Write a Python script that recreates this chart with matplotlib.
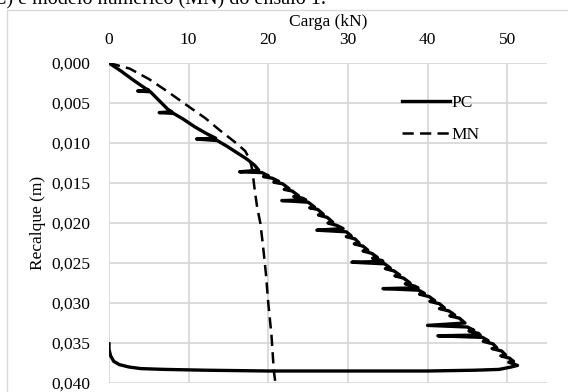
import matplotlib
matplotlib.use("Agg")
import matplotlib.pyplot as plt
from matplotlib.ticker import FuncFormatter
from matplotlib.patches import Rectangle

# Prova de carga (PC): carga (kN) x recalque (m)
pc_carga = [
    0.0, 1.5, 3.0, 4.6, 5.0, 3.6, 5.2, 6.2, 7.4, 7.9, 6.3, 8.1,
    9.3, 10.8, 12.2, 13.4, 11.0, 13.6, 14.8, 16.2, 17.3, 18.3,
    18.8, 16.4, 19.2, 20.0, 19.4, 20.5, 21.3, 20.7, 21.8,
    22.6, 22.0, 23.0, 23.8, 23.2, 24.3, 24.7, 21.7, 25.0,
    25.8, 25.2, 26.2, 26.9, 26.3, 27.4, 28.1, 27.5, 28.6,
    29.4, 26.1, 29.8, 30.4, 29.8, 30.9, 31.4, 30.8, 31.9,
    32.5, 31.9, 33.0, 33.7, 33.1, 34.3, 34.4, 30.5, 34.6,
    35.3, 34.7, 35.8, 36.5, 35.9, 37.0, 37.8, 37.2, 38.4,
    38.8, 34.4, 38.9, 39.6, 39.0, 40.2, 40.9, 40.3, 41.5,
    42.1, 41.5, 42.7, 43.4, 42.8, 44.0, 44.7, 40.0, 45.0,
    45.8, 45.2, 46.4, 46.6, 41.3, 46.9, 47.6, 47.0, 48.2,
    48.7, 48.1, 49.3, 49.8, 49.2, 50.3, 50.8, 50.2, 51.3,
    50.5, 49.0, 46.0, 40.0, 30.0, 20.0, 12.0, 7.0, 4.0,
    2.5, 1.3, 0.6, 0.2, 0.0, 0.0,
]
pc_recalque = [
    0.0, 0.0010, 0.0021, 0.0032, 0.0034, 0.0035, 0.0036, 0.0046, 0.0058, 0.0061, 0.0062, 0.0063,
    0.0070, 0.0080, 0.0088, 0.0094, 0.0095, 0.0097, 0.0104, 0.0113, 0.0120, 0.0128,
    0.0134, 0.0136, 0.0137, 0.0141, 0.0142, 0.0144, 0.0148, 0.0149, 0.0151,
    0.0157, 0.0158, 0.0160, 0.0166, 0.0167, 0.0169, 0.0171, 0.0172, 0.0174,
    0.0180, 0.0181, 0.0183, 0.0189, 0.0190, 0.0193, 0.0199, 0.0200, 0.0203,
    0.0207, 0.0209, 0.0211, 0.0216, 0.0217, 0.0220, 0.0225, 0.0226, 0.0229,
    0.0234, 0.0235, 0.0238, 0.0243, 0.0244, 0.0247, 0.0248, 0.0249, 0.0251,
    0.0256, 0.0257, 0.0260, 0.0265, 0.0266, 0.0269, 0.0275, 0.0276, 0.0279,
    0.0281, 0.0282, 0.0284, 0.0288, 0.0289, 0.0292, 0.0297, 0.0298, 0.0301,
    0.0306, 0.0307, 0.0310, 0.0315, 0.0316, 0.0319, 0.0325, 0.0328, 0.0330,
    0.0334, 0.0335, 0.0338, 0.0340, 0.0341, 0.0343, 0.0347, 0.0348, 0.0351,
    0.0356, 0.0357, 0.0360, 0.0365, 0.0366, 0.0369, 0.0373, 0.0374, 0.0378,
    0.0380, 0.0383, 0.0384, 0.0385, 0.0385, 0.0385, 0.0384, 0.0383, 0.0382,
    0.0380, 0.0377, 0.0373, 0.0366, 0.0358, 0.0351,
]

# Modelo numerico (MN)
mn_carga = [0.0, 2.6, 5.0, 7.4, 9.8, 12.1, 13.9, 15.7, 17.1, 17.7,
            18.0, 18.3, 18.6, 19.0, 19.3, 19.7, 20.0, 20.4, 20.7, 20.9]
mn_recalque = [0.0, 0.0007, 0.0020, 0.0036, 0.0053, 0.0069, 0.0084, 0.0098, 0.0110, 0.0121,
               0.0134, 0.0159, 0.0180, 0.0200, 0.0225, 0.0263, 0.0300, 0.0340, 0.0385, 0.0400]

x_ticks = [0, 10, 20, 30, 40, 50]
y_ticks = [0.000, 0.005, 0.010, 0.015, 0.020, 0.025, 0.030, 0.035, 0.040]

plt.rcParams["font.family"] = ["Liberation Serif", "DejaVu Serif"]
plt.rcParams["font.size"] = 12.5

fig = plt.figure(figsize=(5.68, 3.92), dpi=100)
ax = fig.add_axes([109 / 568, 1 - 383 / 392, 438 / 568, 320 / 392])

# moldura cinza do grafico e legenda cortada da figura
fig.patches.append(Rectangle((7 / 568, -0.1), 1.2, 1 - 10 / 392 + 0.1,
                             transform=fig.transFigure, fill=False,
                             edgecolor="#d9d9d9", lw=1.0))
fig.text(-0.012, 1 - 4 / 392, "C) e modelo numérico (MN) do ensaio 1.",
         fontsize=14.5, ha="left", va="baseline")

ax.plot(pc_carga, pc_recalque, color="black", lw=2.4, label="PC")
ax.plot(mn_carga, mn_recalque, color="black", lw=1.8,
        linestyle=(0, (4.5, 2.5)), label="MN")

ax.set_xlim(0, 55)
ax.set_ylim(0.040, 0.0)
ax.set_xticks(x_ticks)
ax.set_yticks(y_ticks)
ax.yaxis.set_major_formatter(FuncFormatter(lambda v, p: f"{v:.3f}".replace(".", ",")))
ax.xaxis.tick_top()
ax.xaxis.set_label_position("top")
ax.tick_params(axis="x", length=0, pad=10.5)
ax.tick_params(axis="y", length=0, pad=13.5)
ax.set_xlabel("Carga (kN)", labelpad=4.5)
ax.set_ylabel("Recalque (m)", labelpad=3.5)
for s in ax.spines.values():
    s.set_visible(False)
ax.grid(True, color="#d9d9d9", lw=1.3)
ax.set_axisbelow(True)

ax.legend(loc="upper left", bbox_to_anchor=(0.669, 0.90), frameon=False,
          handlelength=2.75, handletextpad=0.1, labelspacing=0.9,
          borderpad=0, borderaxespad=0)

fig.savefig("out.png", dpi=100)
